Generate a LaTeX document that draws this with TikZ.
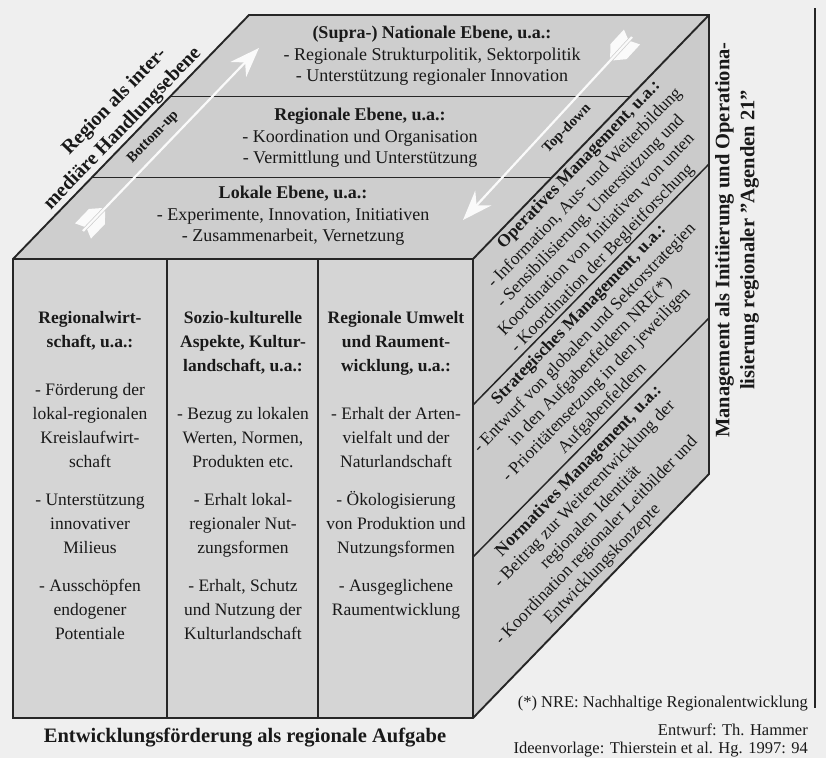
\documentclass[tikz,border=0pt]{standalone}
\usepackage{fontspec}
\setmainfont{Liberation Serif}
\usetikzlibrary{calc}
\definecolor{pagebg}{RGB}{239,239,239}
\definecolor{frontc}{RGB}{213,213,213}
\definecolor{topc}{RGB}{206,206,206}
\definecolor{rightc}{RGB}{203,203,203}
\definecolor{linec}{RGB}{38,38,38}
\definecolor{txtc}{RGB}{25,25,25}
\definecolor{arrw}{RGB}{250,250,250}
\begin{document}
\begin{tikzpicture}[x=1pt,y=-1pt,
  outline/.style={draw=linec, line width=1.9pt, line join=miter},
  inner/.style={draw=linec, line width=1.5pt},
  ttxt/.style={font=\fontsize{18}{21.5}\selectfont, align=center, inner sep=0pt, text=txtc, anchor=north},
  ftxt/.style={font=\fontsize{17.5}{24}\selectfont, align=center, inner sep=0pt, text=txtc, anchor=north},
  rtxt/.style={font=\fontsize{17.5}{20}\selectfont, inner sep=0pt, text=txtc, rotate=46, text height=12pt, text depth=4pt},
  leftlab/.style={font=\bfseries\fontsize{20}{24}\selectfont, inner sep=0pt, text=txtc, rotate=46, text height=13pt, text depth=4pt},
  smalllab/.style={font=\bfseries\fontsize{14.5}{17}\selectfont, inner sep=0pt, text=txtc, rotate=46, text height=10pt, text depth=3pt},
  vlab/.style={font=\bfseries\fontsize{20.5}{25}\selectfont, align=center, inner sep=0pt, text=txtc, rotate=90},
  note/.style={font=\fontsize{16.5}{20}\selectfont, inner sep=0pt, text=txtc, anchor=base east},
  shaft/.style={draw=arrw, line width=2.2pt, shorten >=16pt},
  wfill/.style={fill=arrw}
]
\useasboundingbox (0,0) rectangle (826,758);
\fill[pagebg] (0,0) rectangle (826,758);

% cube corners
\coordinate (FTL) at (13,259);
\coordinate (FTR) at (473,259);
\coordinate (FBR) at (473,718);
\coordinate (FBL) at (13,718);
\coordinate (BTL) at (249,15);
\coordinate (BTR) at (709,15);
\coordinate (BBR) at (709,474);
% right face division lines
\coordinate (RA1) at (473,405);
\coordinate (RA2) at (709,164);
\coordinate (RB1) at (473,557);
\coordinate (RB2) at (709,318);
% column dividers
\coordinate (C1t) at (167,259);
\coordinate (C1b) at (167,718);
\coordinate (C2t) at (318,259);
\coordinate (C2b) at (318,718);
% right frame line
\coordinate (VLt) at (815,8);
\coordinate (VLb) at (815,708);

% faces
\fill[topc] (FTL) -- (BTL) -- (BTR) -- (FTR) -- cycle;
\fill[rightc] (FTR) -- (BTR) -- (BBR) -- (FBR) -- cycle;
\fill[frontc] (FTL) rectangle (FBR);

% inner lines
\draw[inner] ($(FTL)!1/3!(BTL)$) -- ($(FTR)!1/3!(BTR)$);
\draw[inner] ($(FTL)!2/3!(BTL)$) -- ($(FTR)!2/3!(BTR)$);
\draw[inner] (RA1) -- (RA2);
\draw[inner] (RB1) -- (RB2);
\draw[inner] (C1t) -- (C1b);
\draw[inner] (C2t) -- (C2b);

% outline
\draw[outline] (FBL) -- (FTL) -- (BTL) -- (BTR) -- (BBR) -- (FBR) -- cycle;
\draw[outline] (FTL) -- (FTR) -- (BTR);
\draw[outline] (FTR) -- (FBR);
\draw[outline] (VLt) -- (VLb);

% arrows
\coordinate (bu-tail) at (83,231);
\coordinate (bu-tip) at (259,48);
\coordinate (td-tail) at (632,37);
\coordinate (td-tip) at (463,220);
\draw[shaft] (bu-tail) -- (bu-tip);
\draw[shaft] (td-tail) -- (td-tip);
\foreach \tp/\tl/\ang in {bu-tip/bu-tail/46.1, td-tip/td-tail/227.3}{
  \fill[wfill, shift={(\tp)}, rotate=\ang] (0,0) -- (-30,11) -- (-20,0) -- (-30,-11) -- cycle;
  \fill[wfill, shift={(\tl)}, rotate=\ang] (4,2) -- (30,2) -- (20,11) -- (0,11) -- cycle;
  \fill[wfill, shift={(\tl)}, rotate=\ang] (4,-2) -- (30,-2) -- (20,-11) -- (0,-11) -- cycle;
}
\node[smalllab] (bu-lab) at (153,137) {Bottom-up};
\node[smalllab] (td-lab) at (567,129) {Top-down};

% left label
\node[leftlab] (lab1) at (115,102) {Region als inter-};
\node[leftlab] (lab2) at (123,129) {mediäre Handlungsebene};

% top face texts
\node[ttxt] (top1) at (432,26) {\textbf{(Supra-) Nationale Ebene, u.a.:}\\- Regionale Strukturpolitik, Sektorpolitik\\- Unterstützung regionaler Innovation};
\node[ttxt] (top2) at (360,108) {\textbf{Regionale Ebene, u.a.:}\\- Koordination und Organisation\\- Vermittlung und Unterstützung};
\node[ttxt] (top3) at (293,186) {\textbf{Lokale Ebene, u.a.:}\\- Experimente, Innovation, Initiativen\\- Zusammenarbeit, Vernetzung};

% front columns
\node[ftxt] (col1) at (90,311) {\textbf{Regionalwirt-}\\\textbf{schaft, u.a.:}\\[24pt]- Förderung der\\lokal-regionalen\\Kreislaufwirt-\\schaft\\[14pt]- Unterstützung\\innovativer\\Milieus\\[14pt]- Ausschöpfen\\endogener\\Potentiale};
\node[ftxt] (col2) at (243,311) {\textbf{Sozio-kulturelle}\\\textbf{Aspekte, Kultur-}\\\textbf{landschaft, u.a.:}\\[24pt]- Bezug zu lokalen\\Werten, Normen,\\Produkten etc.\\[14pt]- Erhalt lokal-\\regionaler Nut-\\zungsformen\\[14pt]- Erhalt, Schutz\\und Nutzung der\\Kulturlandschaft};
\node[ftxt] (col3) at (396,311) {\textbf{Regionale Umwelt}\\\textbf{und Raument-}\\\textbf{wicklung, u.a.:}\\[24pt]- Erhalt der Arten-\\vielfalt und der\\Naturlandschaft\\[14pt]- Ökologisierung\\von Produktion und\\Nutzungsformen\\[14pt]- Ausgeglichene\\Raumentwicklung};

% right face texts
\foreach \txt [count=\i] in {{\textbf{Operatives Management, u.a.:}}, {- Information, Aus- und Weiterbildung}, {- Sensibilisierung, Unterstützung und}, {Koordination von Initiativen von unten}, {- Koordination der Begleitforschung}}
  \node[rtxt] (op\i) at ({591+0.288*(\i-3)*20.5},{212+1.141*(\i-3)*20.5}) {\txt};
\foreach \txt [count=\i] in {{\textbf{Strategisches Management, u.a.:}}, {- Entwurf von globalen und Sektorstrategien}, {in den Aufgabenfeldern NRE(*)}, {- Prioritätensetzung in den jeweiligen}, {Aufgabenfeldern}}
  \node[rtxt] (st\i) at ({591+0.288*(\i-3)*20.5},{362+1.141*(\i-3)*20.5}) {\txt};
\foreach \txt [count=\i] in {{\textbf{Normatives Management, u.a.:}}, {- Beitrag zur Weiterentwicklung der}, {regionalen Identität}, {- Koordination regionaler Leitbilder und}, {Entwicklungskonzepte}}
  \node[rtxt] (no\i) at ({591+0.288*(\i-3)*20.5},{518+1.141*(\i-3)*20.5}) {\txt};

% right vertical label
\node[vlab] (mgmt) at (737,240) {Management als Initiierung und Operationa-\\lisierung regionaler {\char34}Agenden 21{\char34}};

% bottom caption
\node[font=\bfseries\fontsize{20.5}{24}\selectfont, inner sep=0pt, text=txtc] (caption) at (245,738) {Entwicklungsförderung als regionale Aufgabe};

% notes
\node[note] (nre) at (808,707) {(*) NRE: Nachhaltige Regionalentwicklung};
\node[note] (entw) at (808,735) {Entwurf: Th. Hammer};
\node[note] (idee) at (808,753) {Ideenvorlage: Thierstein et al. Hg. 1997: 94};
\end{tikzpicture}
\end{document}
